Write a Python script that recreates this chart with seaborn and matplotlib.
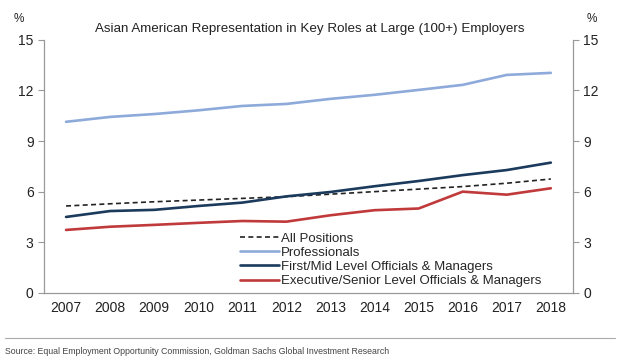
import matplotlib
matplotlib.use("Agg")
import matplotlib.pyplot as plt
import seaborn as sns
import pandas as pd

years = [2007, 2008, 2009, 2010, 2011, 2012, 2013, 2014, 2015, 2016, 2017, 2018]
all_positions = [5.15, 5.28, 5.4, 5.5, 5.6, 5.7, 5.85, 6.0, 6.15, 6.3, 6.5, 6.75]
professionals = [10.14, 10.43, 10.6, 10.82, 11.08, 11.2, 11.5, 11.74, 12.03, 12.33, 12.92, 13.04]
first_mid = [4.5, 4.85, 4.92, 5.15, 5.35, 5.72, 5.98, 6.32, 6.63, 6.98, 7.28, 7.72]
executive = [3.73, 3.92, 4.03, 4.15, 4.26, 4.22, 4.6, 4.9, 5.0, 6.0, 5.82, 6.2]
y_ticks = [0, 3, 6, 9, 12, 15]

series = [
    ("All Positions", all_positions, "#222222", (0, (3, 2)), 1.2),
    ("Professionals", professionals, "#8eaadb", "-", 1.9),
    ("First/Mid Level Officials & Managers", first_mid, "#1b3a5c", "-", 1.9),
    ("Executive/Senior Level Officials & Managers", executive, "#c0393b", "-", 1.9),
]

sns.set_theme(style="white")
plt.rcParams["font.family"] = ["Liberation Sans", "DejaVu Sans"]

fig = plt.figure(figsize=(6.2, 3.62), dpi=100)
ax = fig.add_axes([0.071, 0.191, 0.853, 0.699])

for name, vals, col, ls, lw in series:
    df = pd.DataFrame({"year": years, "value": vals})
    sns.lineplot(data=df, x="year", y="value", ax=ax, color=col,
                 linestyle=ls, linewidth=lw, label=name)

ax.set_xlim(2006.5, 2018.5)
ax.set_ylim(0, 15)
ax.set_yticks(y_ticks)
ax.set_xticks(years)
ax.set_xticklabels([str(y) for y in years])
ax.set_xticks([y - 0.5 for y in years] + [2018.5], minor=True)
ax.tick_params(axis="x", which="major", length=0, labelsize=10, pad=6, colors="#222222")
ax.tick_params(axis="x", which="minor", length=4, width=0.8, color="#999999", direction="out")
ax.tick_params(axis="y", length=4, width=0.8, color="#999999", labelsize=10,
               direction="out", left=True, colors="#222222")
ax.set_xlabel("")
ax.set_ylabel("")
for side in ["top", "right"]:
    ax.spines[side].set_visible(False)
for side in ["left", "bottom"]:
    ax.spines[side].set_color("#999999")
    ax.spines[side].set_linewidth(0.9)

# second y axis on the right, same scale
ax2 = ax.twinx()
ax2.set_ylim(0, 15)
ax2.set_yticks(y_ticks)
ax2.tick_params(axis="y", length=4, width=0.8, color="#999999", labelsize=10,
                direction="out", right=True, colors="#222222")
for side in ["top", "left", "bottom"]:
    ax2.spines[side].set_visible(False)
ax2.spines["right"].set_color("#999999")
ax2.spines["right"].set_linewidth(0.9)

ax.legend(loc="upper left", bbox_to_anchor=(0.37, 0.238), frameon=False,
          fontsize=9.5, handlelength=3.0, handletextpad=0.1, labelspacing=0.14,
          borderpad=0, borderaxespad=0)

fig.text(0.5, 0.92, "Asian American Representation in Key Roles at Large (100+) Employers",
         ha="center", va="center", fontsize=9.6, color="#222222")
fig.text(0.03, 0.948, "%", ha="center", va="center", fontsize=8.5, color="#222222")
fig.text(0.955, 0.948, "%", ha="center", va="center", fontsize=8.5, color="#222222")

fig.add_artist(plt.Line2D([0.008, 0.992], [0.066, 0.066], color="#aaaaaa", linewidth=0.8))
fig.text(0.008, 0.028, "Source: Equal Employment Opportunity Commission, Goldman Sachs Global Investment Research",
         ha="left", va="center", fontsize=6.3, color="#444444",
         family=["Liberation Sans Narrow", "Liberation Sans", "DejaVu Sans"])

fig.savefig("out.png", dpi=100)
plt.close(fig)
